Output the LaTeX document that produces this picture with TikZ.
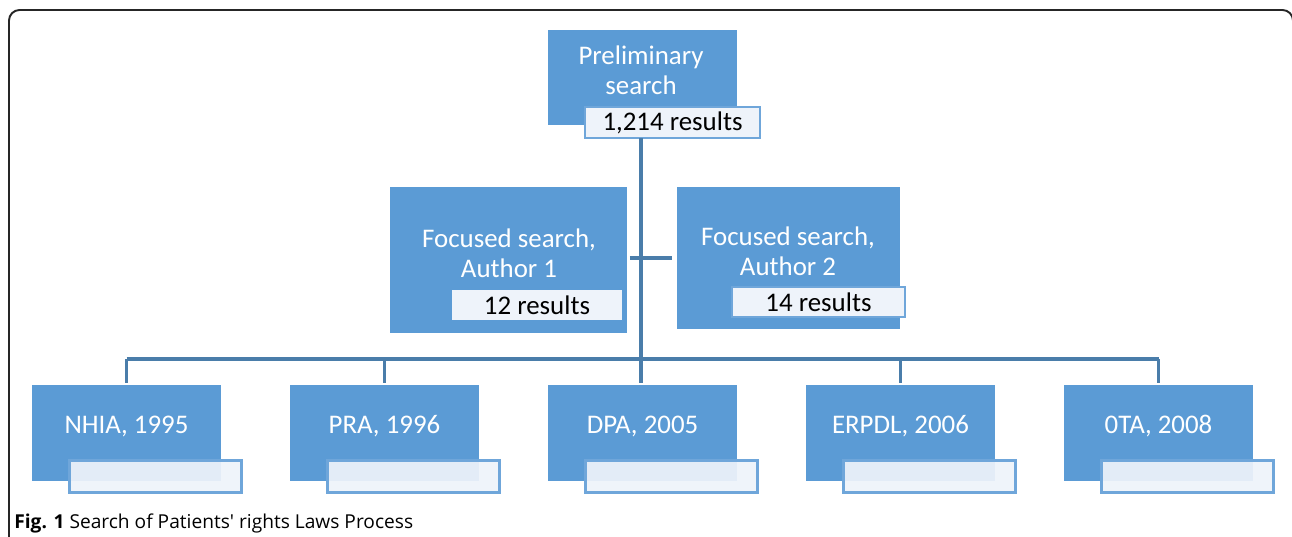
\documentclass[tikz,border=0pt]{standalone}
\usepackage{fontspec}
\setmainfont{Carlito}
\newfontfamily\capfont{Open Sans}
\definecolor{boxblue}{HTML}{5B9BD5}
\definecolor{lineblue}{HTML}{4A7DAA}
\definecolor{paleblue}{HTML}{EEF3FA}
\definecolor{edgeblue}{HTML}{6FA6DA}
\begin{document}
\begin{tikzpicture}[x=0.02cm,y=-0.02cm,
    bluebox/.style={fill=boxblue,inner sep=0pt},
    lawbox/.style={bluebox,minimum width=3.78cm,minimum height=1.92cm},
    boxtext/.style={text=white,align=center,inner sep=0pt,font=\fontsize{15.3}{17}\selectfont},
    resbox/.style={fill=paleblue,inner sep=0pt,font=\fontsize{15.3}{17}\selectfont},
    emptyres/.style={fill=paleblue,fill opacity=0.93,draw=edgeblue,line width=1.6pt,
      minimum width=3.45cm,minimum height=0.64cm,inner sep=0pt},
    link/.style={draw=lineblue,line width=2.1pt}]
  \useasboundingbox (0,0) rectangle (1292,537);
  \draw[rounded corners=6pt,line width=1.1pt,draw=black!85] (9,10) rectangle (1293,570);
  % top
  \node[bluebox,minimum width=3.78cm,minimum height=1.9cm] (p) at (642.5,77.5) {};
  \node[boxtext] (pt) at (641,70) {Preliminary\\search};
  \node[resbox,draw=edgeblue,line width=1pt,minimum width=3.5cm,minimum height=0.62cm] (r0)
    at (672.5,122.5) {1,214 results};
  % focused searches
  \node[bluebox,minimum width=4.74cm,minimum height=2.92cm] (f1) at (508.5,260) {};
  \node[boxtext] (f1t) at (509,253) {Focused search,\\Author 1};
  \node[resbox,minimum width=3.4cm,minimum height=0.6cm] (r1) at (537,305) {12 results};
  \node[bluebox,minimum width=4.46cm,minimum height=2.84cm] (f2) at (788.5,258) {};
  \node[boxtext] (f2t) at (788,251) {Focused search,\\Author 2};
  \node[resbox,draw=edgeblue,line width=0.6pt,minimum width=3.46cm,minimum height=0.6cm] (r2)
    at (818.5,302) {14 results};
  % laws
  \draw
    (126.5,433) node[lawbox] (l1){}
    (384.5,433) node[lawbox] (l2){}
    (642.5,433) node[lawbox] (l3){}
    (900.5,433) node[lawbox] (l4){}
    (1158.5,433) node[lawbox] (l5){};
  \draw
    (126.5,426) node[boxtext] (t1){NHIA, 1995}
    (384.5,426) node[boxtext] (t2){PRA, 1996}
    (642.5,426) node[boxtext] (t3){DPA, 2005}
    (900.5,426) node[boxtext] (t4){ERPDL, 2006}
    (1158.5,426) node[boxtext] (t5){0TA, 2008};
  \draw
    (155.5,476.5) node[emptyres] (e1){}
    (413.5,476.5) node[emptyres] (e2){}
    (671.5,476.5) node[emptyres] (e3){}
    (929.5,476.5) node[emptyres] (e4){}
    (1187.5,476.5) node[emptyres] (e5){};
  % connectors
  \coordinate (bus) at (641,359);
  \coordinate (mid) at (641,258);
  \begin{scope}[link]
    \draw (p.south -| bus) ++(0,13) -- (bus);
    \draw (bus -| l1.north) -- (bus -| l5.north);
    \draw[shorten >=1pt] (bus -| l1.north) -- (l1.north);
    \draw[shorten >=1pt] (bus -| l2.north) -- (l2.north);
    \draw[shorten >=1pt] (bus) -- (bus |- l3.north);
    \draw[shorten >=1pt] (bus -| l4.north) -- (l4.north);
    \draw[shorten >=1pt] (bus -| l5.north) -- (l5.north);
    \draw[shorten <=1.5pt,shorten >=2.5pt] (mid -| f1.east) -- (mid -| f2.west);
  \end{scope}
  % caption
  \node[anchor=base west,inner sep=0pt,font=\capfont\fontsize{10.9}{12}\selectfont] (cap)
    at (14,528) {\textbf{Fig. 1} Search of Patients' rights Laws Process};
\end{tikzpicture}
\end{document}
